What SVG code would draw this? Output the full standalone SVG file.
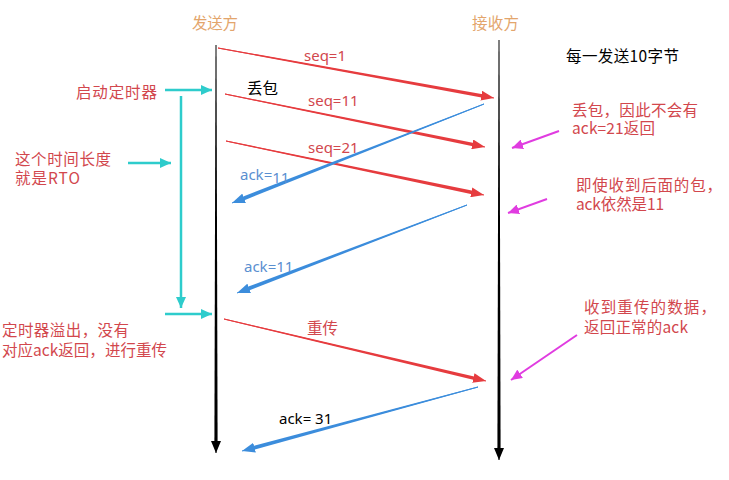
<svg xmlns="http://www.w3.org/2000/svg" width="729" height="480" viewBox="0 0 729 480">
<style>
text{font-family:"Noto Sans","Noto Sans CJK SC",sans-serif;}
.cjk{font-family:"Noto Sans CJK SC","Noto Sans",sans-serif;font-size:15.5px;}
.lat{font-size:15px;}
.hdr{fill:#e3a56c;}
.note{fill:#d2474d;}
.blk{fill:#000;}
.ackb{fill:#5a8fd0;}
.r{fill:#e63c3f;}
.b{fill:#3c8ddc;}
.k{fill:#000;}
.ln{fill:none;stroke-width:1;}
.rl{stroke:#e63c3f;marker-end:url(#hr);}
.bl{stroke:#3c8ddc;marker-end:url(#hb);}
.kl{stroke:#000;marker-end:url(#hk);}
.cl{stroke:#2ecccc;stroke-width:2.5;fill:none;marker-end:url(#hc);}
.ml{stroke:#e03ce0;stroke-width:2;fill:none;marker-end:url(#hm);}
</style>
<defs>
<marker id="hr" markerUnits="userSpaceOnUse" markerWidth="14" markerHeight="10" refX="13" refY="5" orient="auto"><path d="M0,0 L13,5 L0,10 Z" fill="#e63c3f"/></marker>
<marker id="hb" markerUnits="userSpaceOnUse" markerWidth="14" markerHeight="10" refX="13" refY="5" orient="auto"><path d="M0,0 L13,5 L0,10 Z" fill="#3c8ddc"/></marker>
<marker id="hk" markerUnits="userSpaceOnUse" markerWidth="13" markerHeight="10" refX="12" refY="5" orient="auto"><path d="M0,0 L12,5 L0,10 Z" fill="#000"/></marker>
<marker id="hc" markerUnits="userSpaceOnUse" markerWidth="12" markerHeight="10" refX="11" refY="5" orient="auto"><path d="M0,0 L11,5 L0,10 Z" fill="#2ecccc"/></marker>
<marker id="hm" markerUnits="userSpaceOnUse" markerWidth="12" markerHeight="10" refX="11" refY="5" orient="auto"><path d="M0,0 L11,5 L0,10 Z" fill="#e03ce0"/></marker>
</defs>
<rect width="729" height="480" fill="#fff"/>

<g id="sender">
<polygon class="k" points="215.5,45 216.5,45 217.6,443 214.4,443"/>
<line class="ln kl" x1="216" y1="440" x2="216" y2="453"/>
<text class="cjk hdr" x="192" y="29" textLength="46">发送方</text>
</g>
<g id="receiver">
<polygon class="k" points="498.5,40 499.5,40 500.6,450 497.4,450"/>
<line class="ln kl" x1="499" y1="447" x2="499" y2="460"/>
<text class="cjk hdr" x="472" y="29" textLength="47">接收方</text>
</g>

<g id="connectors">
<polygon class="r" points="218,47.5 484.2,94.4 484.2,98 218,48.5"/>
<line class="ln rl" x1="218" y1="48" x2="494" y2="98"/>
<polygon class="r" points="225,93.5 475.2,143.2 475.2,146.8 225,94.5"/>
<line class="ln rl" x1="225" y1="94" x2="485" y2="147"/>
<polygon class="r" points="226,140.5 474.2,191.1 474.2,194.7 226,141.5"/>
<line class="ln rl" x1="226" y1="141" x2="484" y2="195"/>
<polygon class="r" points="224,318.5 476.3,376.9 476.3,380.5 224,319.5"/>
<line class="ln rl" x1="224" y1="319" x2="486" y2="381"/>

<polygon class="b" points="484,103.6 241.3,197.2 241.3,201.4 484,104.4"/>
<line class="ln bl" x1="484" y1="104" x2="232" y2="203"/>
<polygon class="b" points="467,204.6 246.3,287.3 246.3,291.5 467,205.4"/>
<line class="ln bl" x1="467" y1="205" x2="237" y2="293"/>
<polygon class="b" points="478,386.6 251.7,446.4 251.7,450.4 478,387.4"/>
<line class="ln bl" x1="478" y1="387" x2="242" y2="451"/>

<line class="cl" x1="165" y1="90" x2="212" y2="90"/>
<line class="cl" x1="128" y1="163" x2="171" y2="163"/>
<line class="cl" x1="181" y1="96" x2="181" y2="308"/>
<line class="cl" x1="165" y1="314" x2="212" y2="314"/>

<line class="ml" x1="559" y1="131" x2="512" y2="148"/>
<line class="ml" x1="547" y1="199" x2="508" y2="213"/>
<line class="ml" x1="577" y1="335" x2="511" y2="380"/>
</g>

<g id="labels">
<text class="lat note" x="304" y="61">seq=1</text>
<text class="lat note" x="308" y="106">seq=11</text>
<text class="lat note" x="308" y="153">seq=21</text>
<text class="cjk note" x="307" y="334" textLength="31">重传</text>
<text class="lat ackb" x="240" y="180">ack=<tspan dy="3">11</tspan></text>
<text class="lat ackb" x="244" y="272">ack=11</text>
<text class="lat blk" x="279" y="424">ack= 31</text>
<text class="cjk blk" x="247" y="94" textLength="31">丢包</text>
</g>

<g id="notes">
<text class="cjk note" x="76" y="98" textLength="81">启动定时器</text>
<text class="cjk note" x="15" y="165" textLength="96">这个时间长度</text>
<text class="cjk note" x="15" y="184" textLength="65">就是RTO</text>
<text class="cjk note" x="2" y="336" textLength="127">定时器溢出，没有</text>
<text class="cjk note" x="2" y="356" textLength="165">对应ack返回，进行重传</text>
<text class="cjk blk" x="566" y="62" textLength="113">每一发送10字节</text>
<text class="cjk note" x="572" y="116" textLength="126">丢包，因此不会有</text>
<text class="cjk note" x="572" y="134" textLength="83">ack=21返回</text>
<text class="cjk note" x="576" y="191" textLength="146">即使收到后面的包，</text>
<text class="cjk note" x="576" y="210" textLength="88">ack依然是11</text>
<text class="cjk note" x="584" y="313" textLength="132">收到重传的数据，</text>
<text class="cjk note" x="584" y="333" textLength="104">返回正常的ack</text>
</g>
</svg>
